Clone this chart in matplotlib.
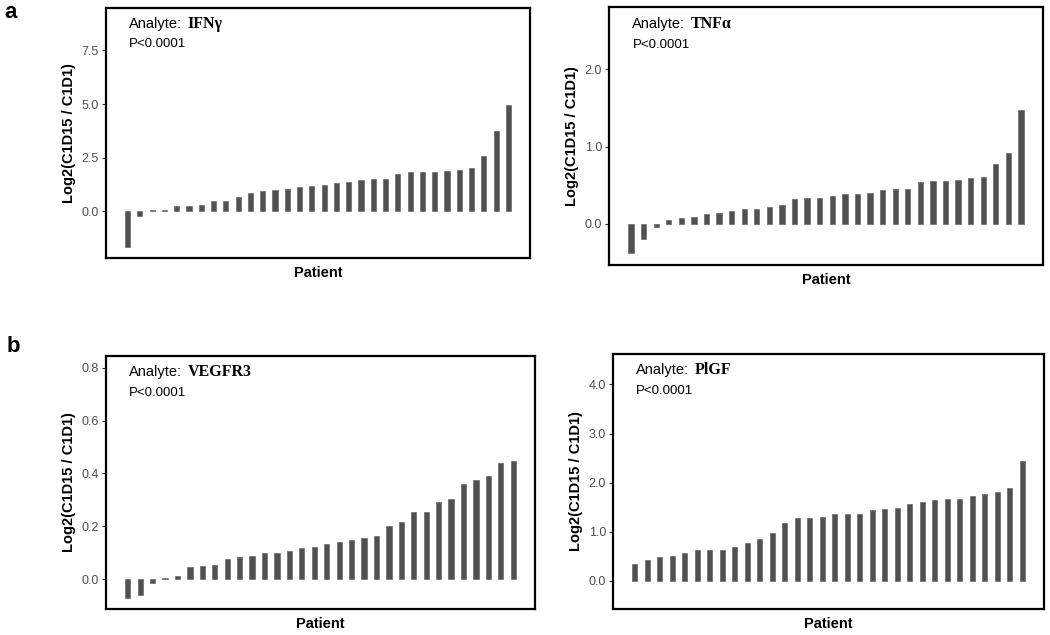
import numpy as np
import matplotlib.pyplot as plt

plt.rcParams['font.family'] = ['Liberation Sans', 'DejaVu Sans']

# values, sorted per patient
ifng = [-1.68, -0.23, 0.05, 0.07, 0.23, 0.25, 0.28, 0.48, 0.50, 0.65, 0.85, 0.96,
        0.99, 1.06, 1.15, 1.18, 1.23, 1.34, 1.35, 1.46, 1.49, 1.49, 1.74, 1.82,
        1.82, 1.83, 1.86, 1.93, 2.00, 2.58, 3.73, 4.97]
tnfa = [-0.377, -0.20, -0.04, 0.048, 0.078, 0.09, 0.12, 0.14, 0.17, 0.19, 0.19,
        0.21, 0.24, 0.32, 0.33, 0.33, 0.36, 0.38, 0.39, 0.40, 0.43, 0.455, 0.455,
        0.545, 0.55, 0.55, 0.567, 0.59, 0.61, 0.77, 0.92, 1.48]
vegfr3 = [-0.072, -0.06, -0.014, 0.003, 0.013, 0.044, 0.048, 0.055, 0.077, 0.084,
          0.088, 0.097, 0.097, 0.107, 0.117, 0.122, 0.131, 0.141, 0.147, 0.156,
          0.162, 0.20, 0.216, 0.255, 0.255, 0.292, 0.304, 0.358, 0.374, 0.39,
          0.438, 0.445]
plgf = [0.346, 0.435, 0.496, 0.516, 0.577, 0.625, 0.638, 0.638, 0.686, 0.78,
        0.855, 0.978, 1.18, 1.276, 1.276, 1.30, 1.36, 1.36, 1.37, 1.45, 1.47,
        1.49, 1.575, 1.60, 1.64, 1.66, 1.66, 1.74, 1.78, 1.82, 1.89, 2.44]

analytes = ['IFNγ', 'TNFα', 'VEGFR3', 'PlGF']
series = [ifng, tnfa, vegfr3, plgf]
yticks = [[0.0, 2.5, 5.0, 7.5], [0.0, 1.0, 2.0],
          [0.0, 0.2, 0.4, 0.6, 0.8], [0.0, 1.0, 2.0, 3.0, 4.0]]
ylims = [(-2.17, 9.47), (-0.537, 2.81), (-0.113, 0.844), (-0.57, 4.62)]

W, H = 1050, 635
# axes boxes in pixels: left, right, top, bottom
boxes = [(106, 530, 8, 258), (609, 1043, 7, 265),
         (106, 535, 356, 609), (613, 1044, 354, 609)]

fig = plt.figure(figsize=(W / 100, H / 100), dpi=100)

for i in range(4):
    l, r, t, b = boxes[i]
    ax = fig.add_axes([l / W, 1 - b / H, (r - l) / W, (b - t) / H])
    vals = series[i]
    x = np.arange(1, len(vals) + 1)
    ax.bar(x, vals, width=0.42, color='#505050', edgecolor='#6a6a6a', linewidth=0.5)
    ax.set_xlim(1 - 1.75, len(vals) + 1.75)
    ax.set_ylim(*ylims[i])
    ax.set_yticks(yticks[i])
    ax.set_yticklabels(['%.1f' % v for v in yticks[i]])
    ax.set_xticks([])
    ax.tick_params(axis='y', length=3, width=0.8, color='#333333',
                   labelcolor='#4d4d4d', labelsize=9, pad=2)
    for s in ax.spines.values():
        s.set_linewidth(1.6)
        s.set_color('black')
    ax.set_xlabel('Patient', fontsize=10.5, fontweight='bold', labelpad=6)
    ax.set_ylabel('Log2(C1D15 / C1D1)', fontsize=10.5, fontweight='bold', labelpad=4)

    t1 = ax.text(0.054, 0.92, 'Analyte:', transform=ax.transAxes, fontsize=10.5,
                 va='baseline', ha='left')
    ax.annotate(analytes[i], xy=(1, 0.92), xycoords=(t1, 'axes fraction'),
                xytext=(4, 0), textcoords='offset points', va='baseline',
                ha='left', fontsize=11.5, fontweight='bold',
                family=['Liberation Serif', 'DejaVu Serif'])
    ax.text(0.054, 0.843, 'P<0.0001', transform=ax.transAxes, fontsize=9.5,
            va='baseline', ha='left')

fig.text(4 / W, 1 - 18 / H, 'a', fontsize=16, fontweight='bold', va='baseline')
fig.text(7 / W, 1 - 352 / H, 'b', fontsize=16, fontweight='bold', va='baseline')

fig.savefig('out.png', dpi=100)
